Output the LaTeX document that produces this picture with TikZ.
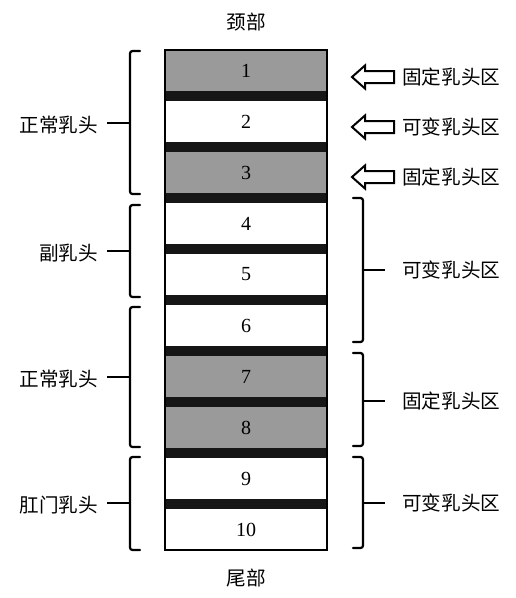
\documentclass[tikz,border=0pt]{standalone}
\usepackage{fontspec}
\setmainfont{Liberation Serif}
\newfontfamily\cjk{Noto Sans CJK SC}
\definecolor{seggray}{HTML}{9A9A9A}
\definecolor{barblack}{HTML}{161616}
\begin{document}
\begin{tikzpicture}[x=1pt,y=-1pt,
  seg/.style={minimum width=162pt,minimum height=41pt,inner sep=0pt,font=\fontsize{20}{20}\selectfont},
  gseg/.style={seg,fill=seggray},
  wseg/.style={seg,fill=white},
  bar/.style={fill=barblack,draw=none},
  lbl/.style={font=\cjk\fontsize{19.6}{20}\selectfont,inner sep=0pt},
  brace/.style={line width=2.2pt,rounded corners=2.5pt,line cap=round},
  tick/.style={line width=2.2pt},
  harrow/.style={line width=2pt,line join=miter}]
\useasboundingbox (0,0) rectangle (516,598);
% segments
\foreach \i/\s in {1/gseg,2/wseg,3/gseg,4/wseg,5/wseg,6/wseg,7/gseg,8/gseg,9/wseg,10/wseg}{
  \node[\s] (s\i) at (246,{50+(\i-1)*51+20.5}) {\raisebox{-1pt}{\i}};
}
\foreach \i in {1,...,9}{
  \fill[bar] (165,{50+(\i-1)*51+41}) rectangle (327,{50+\i*51});
}
\draw[line width=2.5pt] (165,50) rectangle (327,550);
% top/bottom labels
\node[lbl] (neck) at (246,22) {颈部};
\node[lbl] (tail) at (246,578) {尾部};
% left braces
\foreach \n/\t/\b/\m/\txt in {a/51/194/123/正常乳头,b/205/297/251/副乳头,c/307/447/377/正常乳头,d/457/550/503/肛门乳头}{
  \draw[brace] (140,\t) -- (130,\t) -- (130,\b) -- (140,\b);
  \coordinate (lb\n) at (130,\m);
  \node[lbl,anchor=east] (ll\n) at (98,\m+2) {\txt};
  \draw[tick] (lb\n) -- (107,\m);
}
% right braces
\foreach \n/\t/\b/\m/\txt in {a/198/342/270/可变乳头区,b/353/446/401/固定乳头区,c/457/548/503/可变乳头区}{
  \draw[brace] (353,\t) -- (363,\t) -- (363,\b) -- (353,\b);
  \coordinate (rb\n) at (363,\m);
  \node[lbl,anchor=west] (rl\n) at (402,\m) {\txt};
  \draw[tick] (rb\n) -- (385,\m);
}
% hollow arrows
\foreach \n/\y/\txt in {a/77/固定乳头区,b/127/可变乳头区,c/177/固定乳头区}{
  \coordinate (tip\n) at (352,\y);
  \draw[harrow] (tip\n) -- (365,\y-11.5) -- (365,\y-6) -- (394,\y-6) -- (394,\y+6) -- (365,\y+6) -- (365,\y+11.5) -- cycle;
  \node[lbl,anchor=west] (al\n) at (402,\y) {\txt};
}
\end{tikzpicture}
\end{document}
